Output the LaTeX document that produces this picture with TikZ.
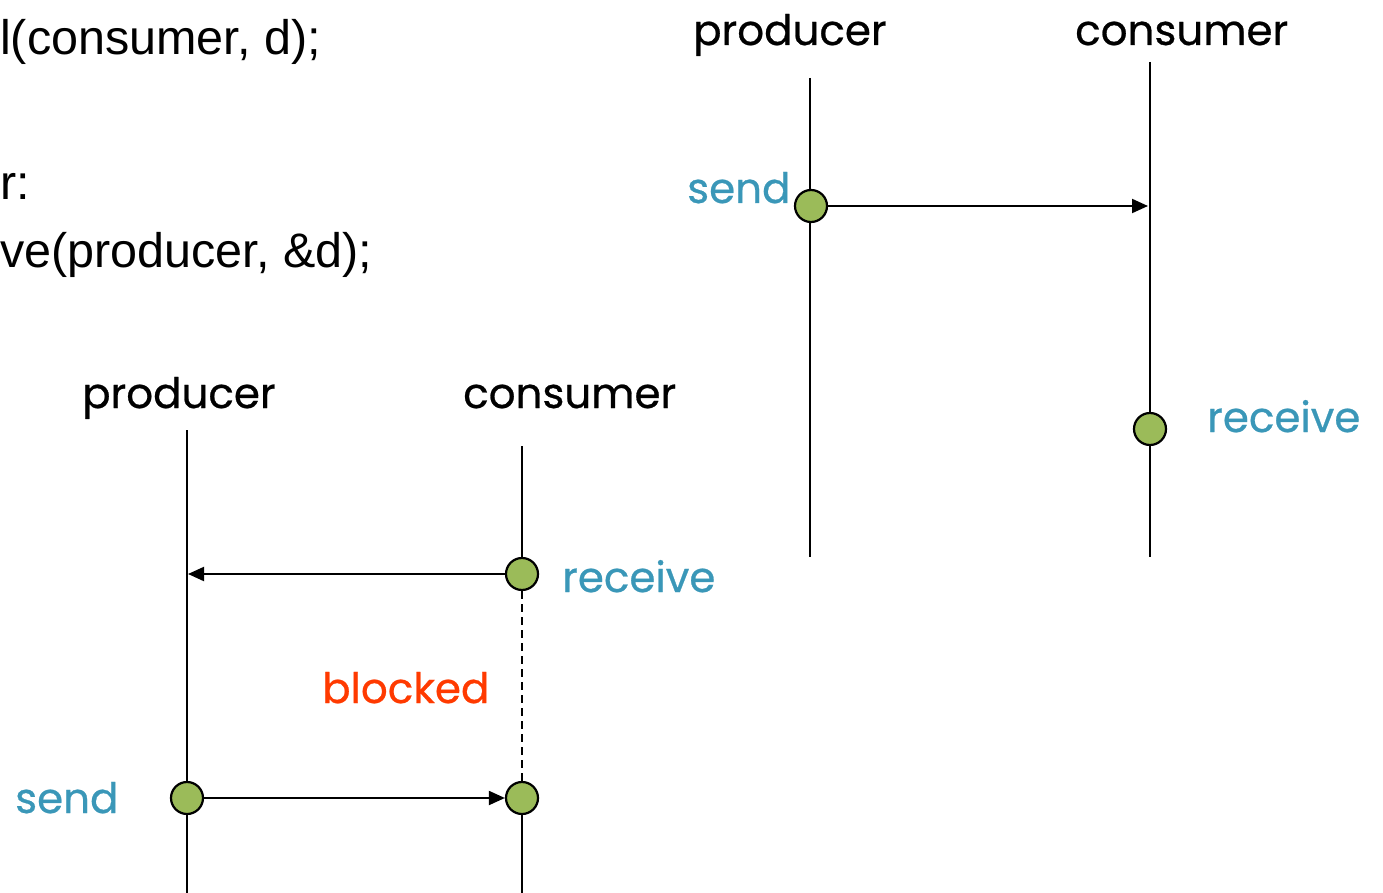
\documentclass[tikz,border=0pt]{standalone}
\usepackage{fontspec}
\usetikzlibrary{arrows.meta}
\newfontfamily\codefont{Liberation Sans}
\newfontfamily\labelfont[FakeBold=0.6]{Poppins}
\definecolor{dotgreen}{HTML}{9BBB59}
\definecolor{actblue}{HTML}{3A97B8}
\definecolor{blockred}{HTML}{FF3A00}
\tikzset{
  code/.style={anchor=base west, inner sep=0pt, font=\codefont\fontsize{48.5}{58}\selectfont},
  lbl/.style={anchor=base west, inner sep=0pt, font=\labelfont\fontsize{42}{50}\selectfont},
  actlbl/.style={lbl, text=actblue},
  dot/.style={circle, draw=black, line width=2.2pt, fill=dotgreen, minimum size=32pt, inner sep=0pt},
  life/.style={line width=2pt},
  msg/.style={line width=2pt, -{Triangle[length=16pt,width=14pt]}},
}
\begin{document}
\begin{tikzpicture}[x=1pt,y=-1pt]
\useasboundingbox (0,0) rectangle (1383,893);
% code fragment
\node[code] (c1) at (0,55) {l(consumer, d);};
\node[code] (c2) at (0,200) {r:};
\node[code] (c3) at (0,268) {ve(producer, \&d);};
% top-right diagram
\node[lbl] (p1) at (693,45) {producer};
\node[lbl] (k1) at (1075,45) {consumer};
\coordinate (p1top) at (810,78);
\coordinate (p1bot) at (810,557);
\coordinate (k1top) at (1150,62);
\coordinate (k1bot) at (1150,557);
\draw[life] (p1top) -- (p1bot);
\draw[life] (k1top) -- (k1bot);
\node[dot] (s1) at (811,206) {};
\node[dot] (r1) at (1150,429) {};
\coordinate (s1end) at (1148,206);
\draw[msg] (s1) -- (s1end);
\node[actlbl] (s1l) at (687,203) {send};
\node[actlbl] (r1l) at (1207,432) {receive};
% bottom-left diagram
\node[lbl] (p2) at (82,408) {producer};
\node[lbl] (k2) at (463,408) {consumer};
\coordinate (p2top) at (187,430);
\coordinate (p2bot) at (187,893);
\coordinate (k2top) at (522,446);
\coordinate (k2bot) at (522,893);
\draw[life] (p2top) -- (p2bot);
\node[dot] (r2) at (522,574) {};
\node[dot] (s2) at (522,798) {};
\node[dot] (s2p) at (187,798) {};
\draw[life] (k2top) -- (r2);
\draw[life, dash pattern=on 8pt off 5pt] (r2) -- (s2);
\draw[life] (s2) -- (k2bot);
\coordinate (r2end) at (188,574);
\draw[msg] (r2) -- (r2end);
\draw[msg] (s2p) -- (s2);
\node[actlbl] (r2l) at (562,592) {receive};
\node[lbl, text=blockred] (bl) at (322,703) {blocked};
\node[actlbl] (s2l) at (15,813) {send};
\end{tikzpicture}
\end{document}
